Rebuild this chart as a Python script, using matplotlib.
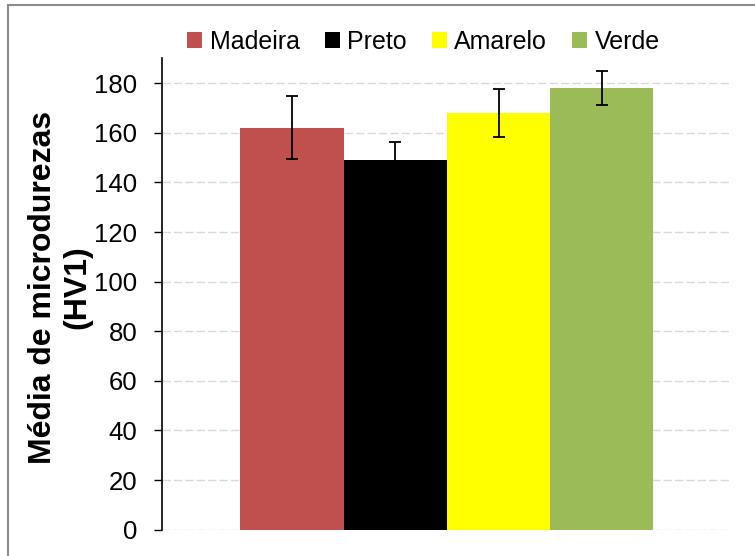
import matplotlib
matplotlib.use("Agg")
import matplotlib.pyplot as plt
from matplotlib.patches import Rectangle

plt.rcParams['font.family'] = ['Liberation Sans', 'DejaVu Sans']

materiais = ['Madeira', 'Preto', 'Amarelo', 'Verde']
medias = [162, 149, 168, 178]
desvios = [12.7, 7.5, 9.5, 6.8]
cores = ['#C0504D', '#000000', '#FFFF00', '#9BBB59']

fig = plt.figure(figsize=(7.55, 5.56), dpi=100)
ax = fig.add_axes([0.2146, 0.0473, 0.7546, 0.8475])

largura = 0.1813
for i in range(len(materiais)):
    pos = (i - 1.5) * largura
    ax.bar(pos, medias[i], width=largura, color=cores[i], label=materiais[i], zorder=2)
    ax.errorbar(pos, medias[i], yerr=desvios[i], fmt='none', ecolor='black',
                elinewidth=1.3, capsize=4.6, capthick=1.3, zorder=3)

ax.set_xlim(-0.5, 0.5)
ax.set_ylim(0, 190)
ax.set_yticks(range(0, 181, 20))
ax.set_xticks([])
ax.yaxis.grid(True, color='#d9d9d9', linestyle=(0, (6, 2.2)), linewidth=1.0)
ax.set_axisbelow(True)
for s in ['top', 'right', 'bottom']:
    ax.spines[s].set_visible(False)
ax.spines['left'].set_linewidth(1.2)
ax.tick_params(axis='y', direction='out', length=5.8, width=1.0, pad=12, labelsize=18.5)

fig.text(0.080, 0.483, 'Média de microdurezas\n(HV1)', rotation=90, ha='center',
         va='center', fontsize=23, fontweight='bold', linespacing=1.2)

ax.legend(loc='center', bbox_to_anchor=(0.561, 0.9245), bbox_transform=fig.transFigure,
          ncol=4, frameon=False, fontsize=18, handlelength=0.6, handleheight=0.6,
          handletextpad=0.3, columnspacing=1.0)

# moldura cinza da área do gráfico
fig.patches.append(Rectangle((8 / 755, -0.1), 1.1, 1 - 4.5 / 556 + 0.1,
                             transform=fig.transFigure, fill=False,
                             edgecolor='#8c8c8c', linewidth=1.5))

fig.savefig('out.png', dpi=100)
